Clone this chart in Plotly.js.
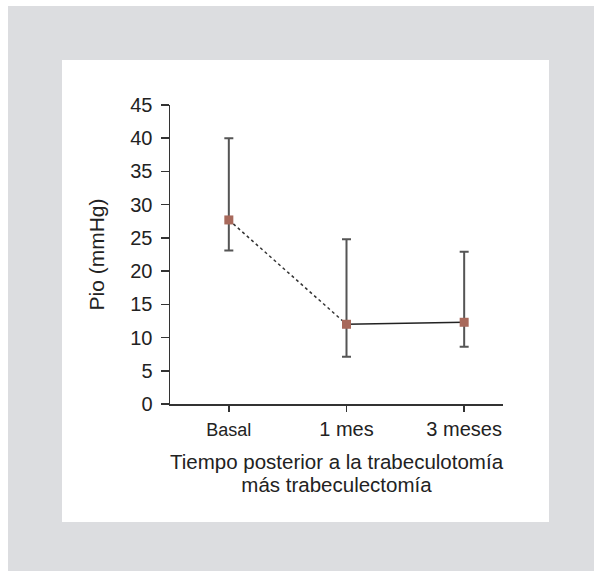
<!DOCTYPE html>
<html>
<head>
<meta charset="utf-8">
<script src="https://cdn.plot.ly/plotly-3.0.1.min.js"></script>
<style>html,body{margin:0;padding:0;background:#fff;}#chart{width:594px;height:571px;}</style>
</head>
<body>
<div id="chart"></div>
<script>
// Data
var categories = ["Basal", "1 mes", "3 meses"];
var tickLabels = ["<span style=\"font-size:18px\">Basal</span>", "1 mes", "3 meses"];
var pioMedia = [27.7, 12.0, 12.3];
var pioMax = [40.0, 24.8, 22.9];
var pioMin = [23.1, 7.1, 8.6];
var yTicks = [0, 5, 10, 15, 20, 25, 30, 35, 40, 45];
var xTitleLines = ["Tiempo posterior a la trabeculotomía", "más trabeculectomía"];
var yTitle = "Pio (mmHg)";

var errPlus = pioMax.map(function (v, i) { return v - pioMedia[i]; });
var errMinus = pioMedia.map(function (v, i) { return v - pioMin[i]; });

var font = "Liberation Sans, Arial, Helvetica, sans-serif";
var xTitleText = xTitleLines.map(function (s) {
  return "<span style=\"font-size:20.5px\">" + s + "</span>";
}).join("<br>");

var traces = [
  {
    x: categories.slice(0, 2), y: pioMedia.slice(0, 2),
    type: "scatter", mode: "lines",
    line: {color: "#333", width: 1.5, dash: "dot"},
    hoverinfo: "skip", showlegend: false
  },
  {
    x: categories.slice(1, 3), y: pioMedia.slice(1, 3),
    type: "scatter", mode: "lines",
    line: {color: "#222", width: 1.5},
    hoverinfo: "skip", showlegend: false
  },
  {
    x: categories, y: pioMedia,
    type: "scatter", mode: "markers",
    marker: {symbol: "square", size: 9, color: "#a8695b"},
    error_y: {type: "data", symmetric: false, array: errPlus, arrayminus: errMinus,
              color: "#555", thickness: 2, width: 4.5},
    showlegend: false
  }
];

var layout = {
  width: 594, height: 571,
  margin: {l: 170, r: 91, t: 105, b: 167},
  paper_bgcolor: "#fff",
  plot_bgcolor: "rgba(0,0,0,0)",
  font: {family: font, color: "#222", size: 20},
  showlegend: false,
  xaxis: {
    type: "category",
    range: [-0.5, 2.33],
    tickvals: categories, ticktext: tickLabels,
    showgrid: false, zeroline: false,
    showline: true, linecolor: "#333", linewidth: 1.5,
    ticks: "outside", ticklen: 6, tickwidth: 1.5, tickcolor: "#333",
    tickfont: {size: 20, family: font, color: "#222"},
    title: {text: xTitleText,
            font: {size: 17.8, family: font, color: "#222"}, standoff: 18}
  },
  yaxis: {
    range: [0, 45],
    tickvals: yTicks,
    showgrid: false, zeroline: false,
    showline: true, linecolor: "#333", linewidth: 1.5,
    ticks: "outside", ticklen: 8, tickwidth: 1.5, tickcolor: "#333",
    ticklabelstandoff: 4,
    tickfont: {size: 20, family: font, color: "#222"},
    title: {text: yTitle, font: {size: 21, family: font, color: "#222"}, standoff: 20}
  },
  shapes: [
    {type: "rect", xref: "paper", yref: "paper", layer: "below",
     x0: -0.4865, x1: 1.2733, y0: -0.5585, y1: 1.3311,
     fillcolor: "#dcdde0", line: {width: 0}},
    {type: "rect", xref: "paper", yref: "paper", layer: "below",
     x0: -0.3243, x1: 1.1381, y0: -0.3946, y1: 1.1505,
     fillcolor: "#ffffff", line: {width: 0}}
  ]
};

Plotly.newPlot("chart", traces, layout, {displayModeBar: false, staticPlot: true});
</script>
</body>
</html>
